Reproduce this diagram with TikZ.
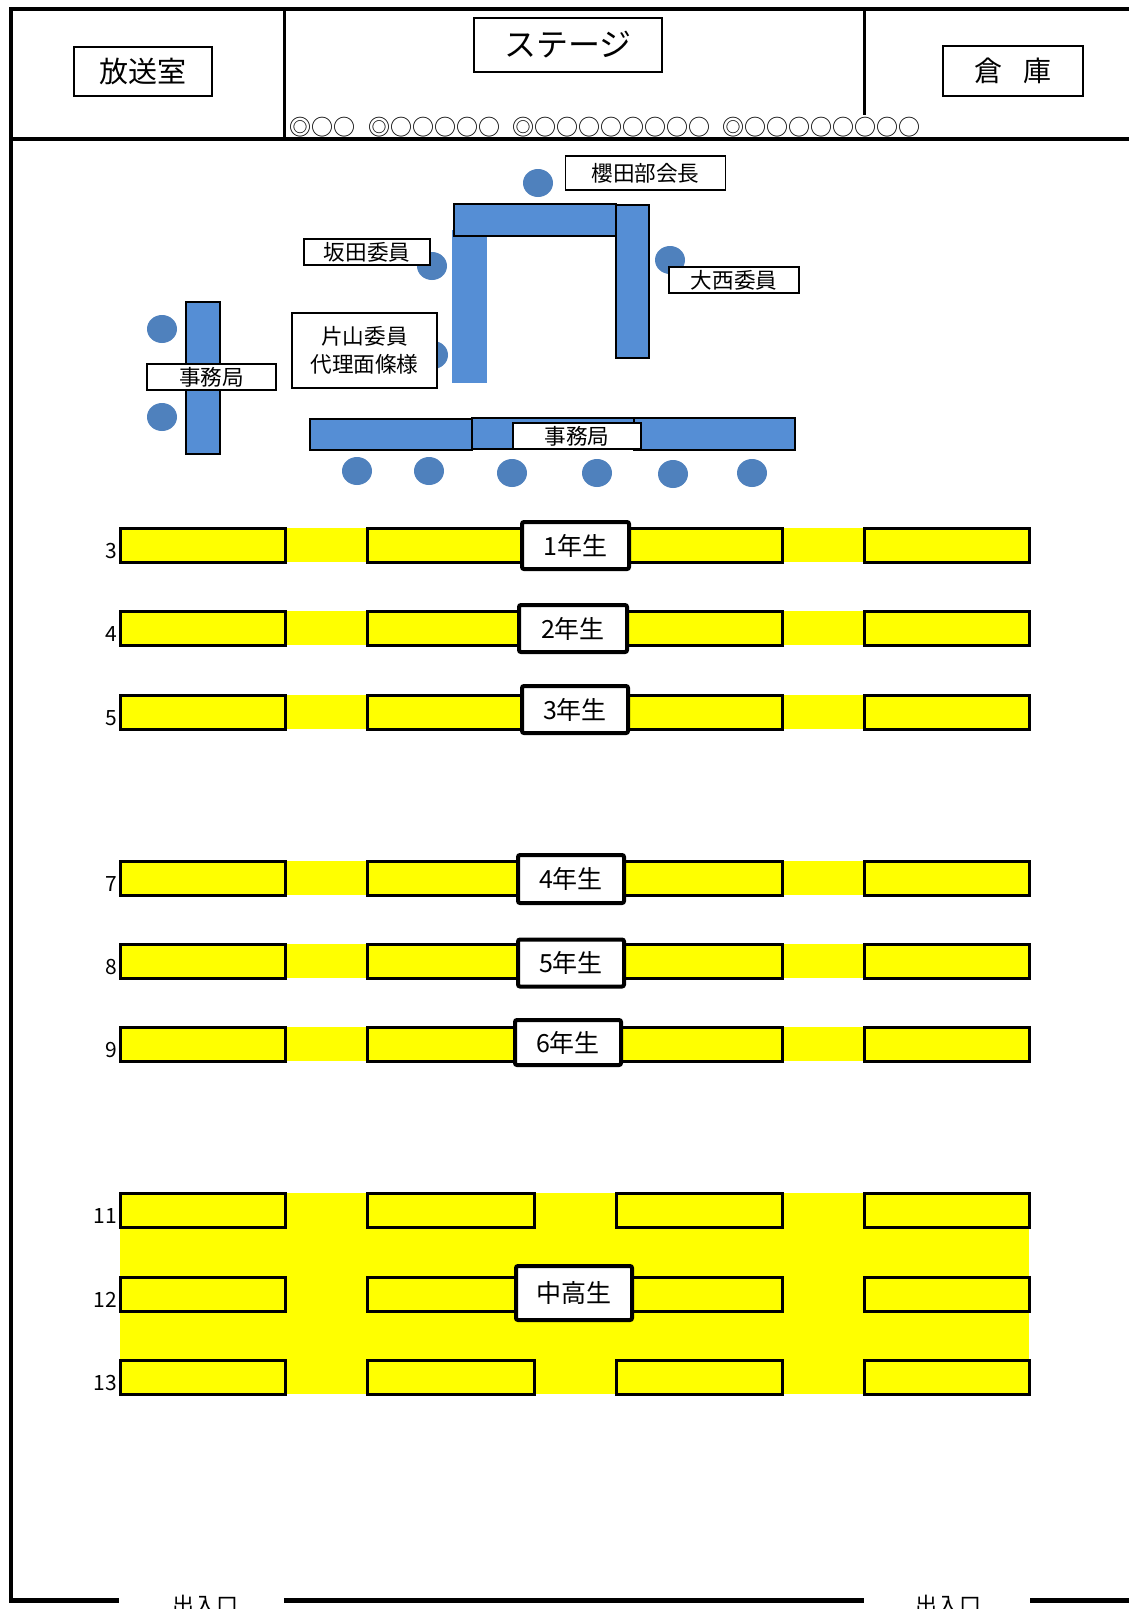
\documentclass[tikz,border=0pt]{standalone}
\usepackage{fontspec}
\setmainfont{Noto Sans CJK JP}
\definecolor{tblue}{HTML}{558ED5}
\definecolor{cblue}{HTML}{4F81BD}
\definecolor{seatyellow}{HTML}{FFFF00}
\newcommand{\fsz}[1]{\fontsize{#1}{#1}\selectfont}
\tikzset{
  wall/.style={line width=4pt},
  divider/.style={line width=3pt},
  roomlbl/.style={draw, line width=1.3pt, fill=white, inner sep=0pt, align=center},
  bluetable/.style={fill=tblue, draw=black, line width=2pt},
  seat/.style={fill=cblue, draw=none},
  desk/.style={draw=black, line width=3pt, fill=seatyellow},
  yearlbl/.style={draw, line width=4pt, fill=white, rounded corners=2pt, inner sep=0pt, font=\fsz{25}},
  rownum/.style={anchor=base east, inner sep=0pt, font=\fsz{21}},
  dots/.style={anchor=west, inner sep=0pt, font=\fsz{22}},
}
\begin{document}
\begin{tikzpicture}[x=1pt,y=-1pt]
\useasboundingbox (0,0) rectangle (1129,1609);
\fill[white] (0,0) rectangle (1129,1609);

% ---------- walls ----------
\draw[wall] (11,9) -- (1129,9);
\draw[wall] (11,139) -- (1129,139);
\draw[wall] (11,7) -- (11,1602);
\draw[divider] (284,9) -- (284,139);
\draw[divider] (864,9) -- (864,115);
\draw[line width=5pt] (9,1600) -- (119,1600);
\draw[line width=5pt] (284,1600) -- (864,1600);
\draw[line width=5pt] (1030,1600) -- (1129,1600);

% ---------- stage area ----------
\node[roomlbl, minimum width=138pt, minimum height=49pt, font=\fsz{29}] (hoso) at (143,71.5) {放送室};
\node[roomlbl, minimum width=188pt, minimum height=54pt, font=\fsz{32}] (stage) at (568,45) {ステージ};
\node[roomlbl, minimum width=140pt, minimum height=50pt, font=\fsz{28}] (soko) at (1013,71) {倉\kern22pt 庫};
\node[dots] (d1) at (289,127) {◎○○};
\node[dots] (d2) at (368,127) {◎○○○○○};
\node[dots] (d3) at (512,127) {◎○○○○○○○○};
\node[dots] (d4) at (722,127) {◎○○○○○○○○};

% ---------- head table area ----------
\fill[tblue] (452,230) rectangle (487,383);
\draw[bluetable] (454,204) rectangle (616,236);
\draw[bluetable] (616,205) rectangle (649,358);
\draw[bluetable] (186,302) rectangle (220,454);
\draw[bluetable] (310,419) rectangle (472,450);
\draw[bluetable] (472,418) rectangle (634,449);
\draw[bluetable] (634,418) rectangle (795,450);

\foreach \cx/\cy in {538/183, 432/266, 670/260, 433/355, 162/329, 162/417,
  357/471, 429/471, 512/473, 597/473, 673/474, 752/473}
  \fill[seat] (\cx,\cy) ellipse [x radius=15, y radius=14];

\node[roomlbl, minimum width=160pt, minimum height=34pt, font=\fsz{21.6}] (sakurada) at (645.5,173) {櫻田部会長};
\node[roomlbl, minimum width=126pt, minimum height=26pt, font=\fsz{21.6}] (sakata) at (367,252) {坂田委員};
\node[roomlbl, minimum width=130pt, minimum height=26pt, font=\fsz{21.6}] (onishi) at (734,280) {大西委員};
\node[roomlbl, minimum width=145pt, minimum height=75pt, font=\fontsize{21.6}{28}\selectfont] (katayama) at (364.5,350.5) {片山委員\\代理面條様};
\node[roomlbl, minimum width=129pt, minimum height=26pt, font=\fsz{21.6}] (jim1) at (211.5,377) {事務局};
\node[roomlbl, minimum width=128pt, minimum height=26pt, font=\fsz{21.6}] (jim2) at (577,436) {事務局};

% ---------- seat rows ----------
\foreach \t/\n in {528/3, 611/4, 695/5, 861/7, 944/8, 1027/9} {
  \fill[seatyellow] (120,\t) rectangle (1029,\t+34);
  \draw[desk] (120,\t) rectangle (285,\t+34);
  \draw[desk] (367,\t) rectangle (534,\t+34);
  \draw[desk] (616,\t) rectangle (782,\t+34);
  \draw[desk] (864,\t) rectangle (1029,\t+34);
  \node[rownum] (num\n) at (117,\t+30) {\n};
}
\fill[seatyellow] (120,1193) rectangle (1029,1394);
\foreach \t/\n in {1193/11, 1277/12, 1360/13} {
  \draw[desk] (120,\t) rectangle (285,\t+34);
  \draw[desk] (367,\t) rectangle (534,\t+34);
  \draw[desk] (616,\t) rectangle (782,\t+34);
  \draw[desk] (864,\t) rectangle (1029,\t+34);
  \node[rownum] (num\n) at (117,\t+30) {\n};
}

\node[yearlbl, minimum width=107pt, minimum height=47pt] (y1) at (575.5,545.5) {1年生};
\node[yearlbl, minimum width=108pt, minimum height=47pt] (y2) at (573,628.5) {2年生};
\node[yearlbl, minimum width=106pt, minimum height=47pt] (y3) at (575,709.5) {3年生};
\node[yearlbl, minimum width=106pt, minimum height=48pt] (y4) at (571,879) {4年生};
\node[yearlbl, minimum width=106pt, minimum height=47pt] (y5) at (571,963) {5年生};
\node[yearlbl, minimum width=106pt, minimum height=45pt] (y6) at (568,1042.5) {6年生};
\node[yearlbl, minimum width=116pt, minimum height=54pt] (ch) at (574,1293) {中高生};

% ---------- entrances ----------
\node[anchor=base, inner sep=0pt, font=\fsz{22}] (ent1) at (205,1613) {出入口};
\node[anchor=base, inner sep=0pt, font=\fsz{22}] (ent2) at (948,1613) {出入口};
\end{tikzpicture}
\end{document}
